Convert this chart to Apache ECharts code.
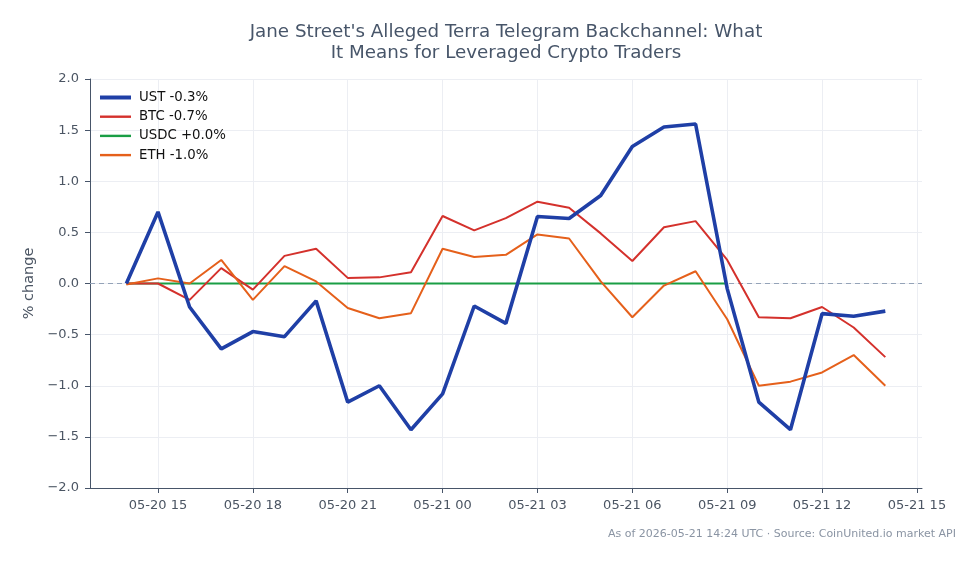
<!DOCTYPE html>
<html><head><meta charset="utf-8">
<script src="https://cdn.jsdelivr.net/npm/echarts@6/dist/echarts.min.js"></script>
<style>html,body{margin:0;padding:0;background:#fff}#c{width:979px;height:564px}</style>
</head><body><div id="c"></div>
<script>
// hourly timestamps (UTC), 2026-05-20 14:00 -> 2026-05-21 14:00
const times = [
  '05-20 14','05-20 15','05-20 16','05-20 17','05-20 18','05-20 19','05-20 20','05-20 21','05-20 22','05-20 23',
  '05-21 00','05-21 01','05-21 02','05-21 03','05-21 04','05-21 05','05-21 06','05-21 07','05-21 08','05-21 09',
  '05-21 10','05-21 11','05-21 12','05-21 13','05-21 14'
];
const ust  = [0, 0.70, -0.23, -0.64, -0.47, -0.52, -0.17, -1.16, -1.00, -1.43, -1.08, -0.22, -0.39, 0.655, 0.635, 0.86, 1.34, 1.53, 1.56, -0.05, -1.16, -1.43, -0.295, -0.32, -0.27];
const btc  = [0, 0, -0.16, 0.15, -0.06, 0.27, 0.34, 0.055, 0.06, 0.11, 0.66, 0.52, 0.64, 0.80, 0.74, 0.49, 0.22, 0.55, 0.61, 0.23, -0.33, -0.34, -0.23, -0.43, -0.72];
const usdc = [0, 0, 0, 0, 0, 0, 0, 0, 0, 0, 0, 0, 0, 0, 0, 0, 0, 0, 0, 0, null, null, null, null, null];
const eth  = [-0.01, 0.05, 0.0, 0.23, -0.16, 0.17, 0.02, -0.24, -0.34, -0.29, 0.34, 0.26, 0.28, 0.48, 0.44, 0.02, -0.33, -0.02, 0.12, -0.35, -1.00, -0.96, -0.87, -0.70, -1.00];
const seriesNames = ['UST -0.3%', 'BTC -0.7%', 'USDC +0.0%', 'ETH -1.0%'];
const xTickLabels = ['05-20 15','05-20 18','05-20 21','05-21 00','05-21 03','05-21 06','05-21 09','05-21 12','05-21 15'];

const HOUR = 3600 * 1000;
function tsOf(lbl) {
  const m = +lbl.slice(0,2), d = +lbl.slice(3,5), h = +lbl.slice(6,8);
  return Date.UTC(2026, m - 1, d, h);
}
const xs = times.map(tsOf);
const xTickVals = xTickLabels.map(tsOf);
const startTs = xs[0];
const pair = arr => arr.map((v, i) => [xs[i], v]);
function fmt(v) {
  const d = new Date(v);
  const p = n => String(n).padStart(2, '0');
  return p(d.getUTCMonth() + 1) + '-' + p(d.getUTCDate()) + ' ' + p(d.getUTCHours());
}
const colors = ['#1f3fa6', '#d4312c', '#1a9e45', '#e5601b'];
const font = 'DejaVu Sans';
const chart = echarts.init(document.getElementById('c'));
chart.setOption({
  animation: false,
  textStyle: { fontFamily: font },
  title: {
    text: "Jane Street's Alleged Terra Telegram Backchannel: What\nIt Means for Leveraged Crypto Traders",
    left: 501, top: 17, textAlign: 'center',
    textStyle: { fontFamily: font, fontSize: 18.3, fontWeight: 'normal', color: '#475569', lineHeight: 21 }
  },
  graphic: [{
    type: 'text', right: 23, top: 529,
    style: { text: 'As of 2026-05-21 14:24 UTC · Source: CoinUnited.io market API', fill: '#8a94a3', font: '11px "DejaVu Sans"' }
  }],
  legend: {
    orient: 'vertical', left: 95, top: 86, itemWidth: 31, itemHeight: 14, itemGap: 6.2,
    textStyle: { fontFamily: font, fontSize: 13.3, color: '#111', padding: [0, 0, 0, 3] },
    data: [
      { name: seriesNames[0], icon: 'path://M0,0H31V4H0Z', itemStyle: { color: colors[0] } },
      { name: seriesNames[1], icon: 'path://M0,0H31V2.4H0Z', itemStyle: { color: colors[1] } },
      { name: seriesNames[2], icon: 'path://M0,0H31V2.4H0Z', itemStyle: { color: colors[2] } },
      { name: seriesNames[3], icon: 'path://M0,0H31V2.4H0Z', itemStyle: { color: colors[3] } }
    ]
  },
  grid: { left: 90, right: 57, top: 79, bottom: 76 },
  xAxis: {
    type: 'value',
    min: startTs - 1.15 * HOUR,
    max: startTs + 25.16 * HOUR,
    axisLine: { show: true, onZero: false, lineStyle: { color: '#475569', width: 1 } },
    axisTick: { show: true, length: 5, customValues: xTickVals, lineStyle: { color: '#475569' } },
    axisLabel: { customValues: xTickVals, formatter: v => fmt(v), color: '#4b5563', fontSize: 13, margin: 11, showMinLabel: true, showMaxLabel: true },
    splitLine: { show: true, lineStyle: { color: '#eceef3', width: 1 } }
  },
  yAxis: {
    type: 'value', min: -2, max: 2, interval: 0.5,
    name: '% change', nameLocation: 'middle', nameGap: 53, nameRotate: 90,
    nameTextStyle: { fontFamily: font, fontSize: 14.5, color: '#4b5563' },
    axisLine: { show: true, lineStyle: { color: '#475569', width: 1 } },
    axisTick: { show: true, length: 5, lineStyle: { color: '#475569' } },
    axisLabel: { formatter: v => v.toFixed(1).replace('-', '\u2212'), color: '#4b5563', fontSize: 13, margin: 11 },
    splitLine: { show: true, lineStyle: { color: '#eceef3', width: 1 } }
  },
  series: [
    { name: seriesNames[0], type: 'line', data: pair(ust), showSymbol: false, symbol: 'none', z: 10,
      lineStyle: { color: colors[0], width: 3.6 }, itemStyle: { color: colors[0] } },
    { name: seriesNames[1], type: 'line', data: pair(btc), showSymbol: false, symbol: 'none', z: 6,
      lineStyle: { color: colors[1], width: 2 }, itemStyle: { color: colors[1] } },
    { name: seriesNames[2], type: 'line', data: pair(usdc), showSymbol: false, symbol: 'none', z: 5,
      lineStyle: { color: colors[2], width: 2 }, itemStyle: { color: colors[2] },
      markLine: { silent: true, symbol: 'none', label: { show: false }, z: 1,
        lineStyle: { color: '#94a3b8', type: [5, 4], width: 1 }, data: [{ yAxis: 0 }] } },
    { name: seriesNames[3], type: 'line', data: pair(eth), showSymbol: false, symbol: 'none', z: 7,
      lineStyle: { color: colors[3], width: 2 }, itemStyle: { color: colors[3] } }
  ]
});
</script></body></html>
